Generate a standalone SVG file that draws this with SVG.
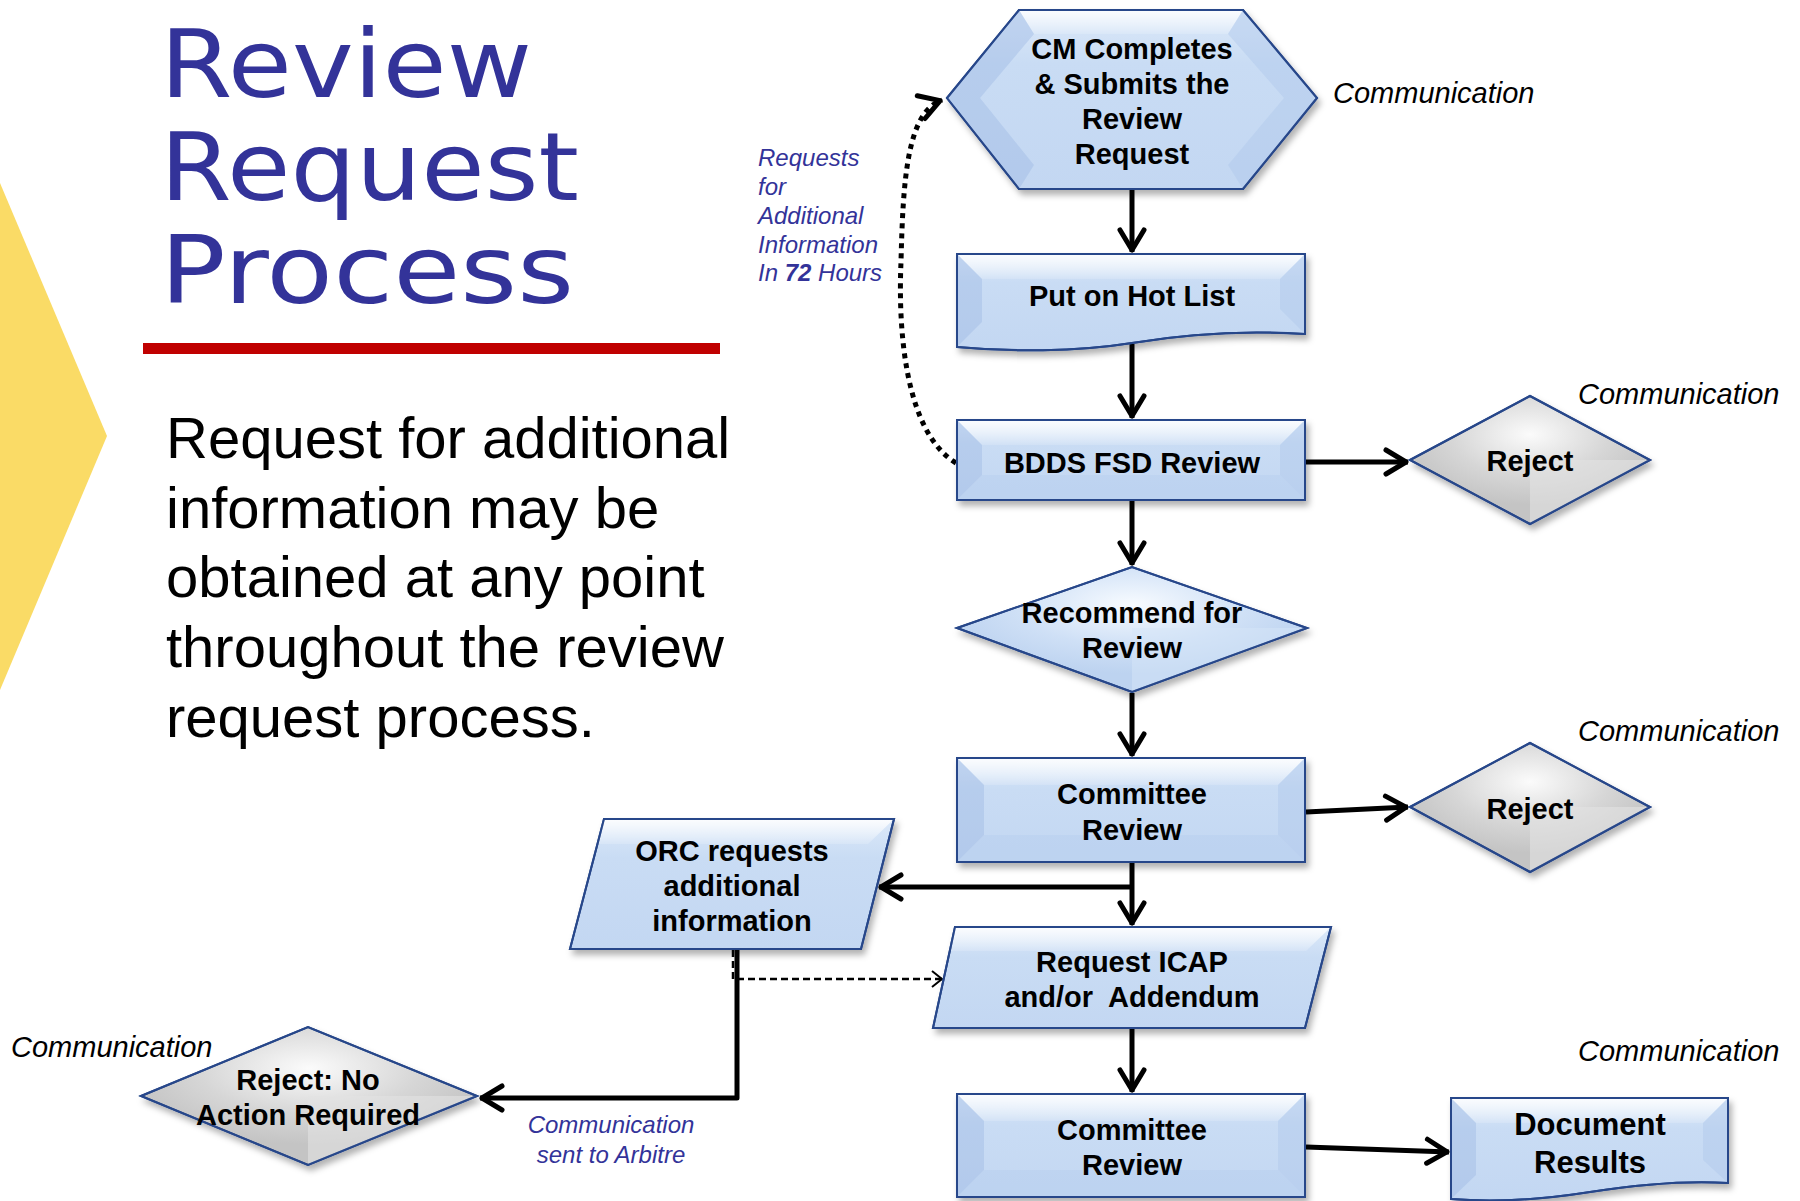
<svg xmlns="http://www.w3.org/2000/svg" width="1800" height="1201" viewBox="0 0 1800 1201">
  <style>
    .title { font-family: "DejaVu Sans", "Liberation Sans", sans-serif; font-size: 95px; fill: #333399; }
    .body { font-family: "Liberation Sans", Arial, sans-serif; font-size: 58px; fill: #000; }
    .lbl { font-family: "Liberation Sans", Arial, sans-serif; font-weight: bold; font-size: 29px; fill: #000; text-anchor: middle; }
    .comm { font-family: "Liberation Sans", Arial, sans-serif; font-style: italic; font-size: 29px; fill: #000; }
    .note { font-family: "Liberation Sans", Arial, sans-serif; font-style: italic; font-size: 24px; fill: #333399; }
    .edge { stroke: #27478a; stroke-width: 2; }
    .conn { stroke: #000; stroke-width: 5; fill: none; stroke-linejoin: round; }
    .dash { stroke: #000; stroke-width: 2.5; fill: none; stroke-dasharray: 7 4; }
    .dots { stroke: #000; stroke-width: 5; fill: none; stroke-dasharray: 5 5; }
    .bev-l { fill: #9fbbe4; opacity: 0.45; }
    .bev-r { fill: #afc7ea; opacity: 0.45; }
    .bev-b { fill: #b3cbed; opacity: 0.35; }
  </style>
  <defs>
    <linearGradient id="blue" x1="0" y1="0" x2="0" y2="1">
      <stop offset="0" stop-color="#dce9f9"/>
      <stop offset="0.3" stop-color="#c9dcf4"/>
      <stop offset="1" stop-color="#c3d7f2"/>
    </linearGradient>
    <linearGradient id="bevTop" x1="0" y1="0" x2="0" y2="1">
      <stop offset="0" stop-color="#ffffff" stop-opacity="0.9"/>
      <stop offset="1" stop-color="#ffffff" stop-opacity="0.15"/>
    </linearGradient>
    <radialGradient id="blueDia" cx="0.5" cy="0.3" r="0.55">
      <stop offset="0" stop-color="#f7fbff"/>
      <stop offset="0.6" stop-color="#cfe0f6"/>
      <stop offset="1" stop-color="#bdd3f0"/>
    </radialGradient>
    <radialGradient id="grayDia" cx="0.5" cy="0.3" r="0.55">
      <stop offset="0" stop-color="#fbfbfb"/>
      <stop offset="0.6" stop-color="#d6d6d6"/>
      <stop offset="1" stop-color="#c4c4c4"/>
    </radialGradient>
    <filter id="shadow" x="-10%" y="-10%" width="125%" height="130%">
      <feDropShadow dx="3" dy="5" stdDeviation="3" flood-color="#000" flood-opacity="0.3"/>
    </filter>
    <marker id="arr" markerUnits="userSpaceOnUse" viewBox="-30 -20 40 40" markerWidth="40" markerHeight="40" refX="2" refY="0" orient="auto">
      <path d="M-20,-12 L0,0 L-20,12" fill="none" stroke="#000" stroke-width="5" stroke-linecap="round" stroke-linejoin="round"/>
    </marker>
    <marker id="arrThin" markerUnits="userSpaceOnUse" viewBox="-15 -10 20 20" markerWidth="20" markerHeight="20" refX="1" refY="0" orient="auto">
      <path d="M-10,-8 L0,0 L-10,8" fill="none" stroke="#000" stroke-width="2"/>
    </marker>
  </defs>

  <rect width="1800" height="1201" fill="#ffffff"/>

  <!-- side accent and heading -->
  <polygon points="0,183 107,436 0,690" fill="#fadb66"/>
  <g id="heading">
    <text class="title" x="160" y="97" textLength="372" lengthAdjust="spacingAndGlyphs">Review</text>
    <text class="title" x="160" y="200" textLength="419" lengthAdjust="spacingAndGlyphs">Request</text>
    <text class="title" x="160" y="303" textLength="414" lengthAdjust="spacingAndGlyphs">Process</text>
    <rect x="143" y="343" width="577" height="11" fill="#c00000"/>
  </g>

  <g id="body-text">
    <text class="body" x="166" y="458">Request for additional</text>
    <text class="body" x="166" y="528">information may be</text>
    <text class="body" x="166" y="597">obtained at any point</text>
    <text class="body" x="166" y="667">throughout the review</text>
    <text class="body" x="166" y="737">request process.</text>
  </g>

  <g id="note-72h">
    <text class="note" x="758" y="166">Requests</text>
    <text class="note" x="758" y="195">for</text>
    <text class="note" x="758" y="224">Additional</text>
    <text class="note" x="758" y="253">Information</text>
    <text class="note" x="758" y="281">In <tspan font-weight="bold">72</tspan> Hours</text>
  </g>

  <g id="note-arbitre">
    <text class="note" x="611" y="1133" text-anchor="middle">Communication</text>
    <text class="note" x="611" y="1163" text-anchor="middle">sent to Arbitre</text>
  </g>

  <g id="comm-labels">
    <text class="comm" x="1333" y="103">Communication</text>
    <text class="comm" x="1578" y="404">Communication</text>
    <text class="comm" x="1578" y="741">Communication</text>
    <text class="comm" x="1578" y="1061">Communication</text>
    <text class="comm" x="11" y="1057">Communication</text>
  </g>

  <!-- connectors -->
  <g id="connectors">
    <path class="conn" d="M1132,190 V252" marker-end="url(#arr)"/>
    <path class="conn" d="M1132,344 V418" marker-end="url(#arr)"/>
    <path class="conn" d="M1306,462 H1408" marker-end="url(#arr)"/>
    <path class="conn" d="M1132,501 V565" marker-end="url(#arr)"/>
    <path class="conn" d="M1132,693 V756" marker-end="url(#arr)"/>
    <path class="conn" d="M1306,812 L1408,807" marker-end="url(#arr)"/>
    <path class="conn" d="M1132,863 V925" marker-end="url(#arr)"/>
    <path class="conn" d="M1132,887 H879" marker-end="url(#arr)"/>
    <path class="conn" d="M1132,1029 V1092" marker-end="url(#arr)"/>
    <path class="conn" d="M1306,1147 L1449,1152" marker-end="url(#arr)"/>
    <path class="conn" d="M737,950 V1098 H480" marker-end="url(#arr)"/>
    <path class="dash" d="M733,950 V979 H943" marker-end="url(#arrThin)"/>
    <path class="dots" d="M956,463 C905,432 898,330 901,262 C903,180 907,112 942,100" marker-end="url(#arr)"/>
  </g>

  <!-- nodes -->
  <g id="node-cm-submits">
    <polygon class="edge" points="947,98 1019,10 1243,10 1317,98 1243,189 1019,189" fill="url(#blue)" filter="url(#shadow)"/>
    <polygon points="1019,10 1243,10 1228,34 1034,34" fill="url(#bevTop)"/>
    <polygon class="bev-l" points="947,98 1019,10 1034,34 980,98 1034,165 1019,189"/>
    <polygon class="bev-r" points="1317,98 1243,10 1228,34 1284,98 1228,165 1243,189"/>
    <polygon class="edge" points="947,98 1019,10 1243,10 1317,98 1243,189 1019,189" fill="none"/>
    <text class="lbl" x="1132" y="59">CM Completes</text>
    <text class="lbl" x="1132" y="94">&amp; Submits the</text>
    <text class="lbl" x="1132" y="129">Review</text>
    <text class="lbl" x="1132" y="164">Request</text>
  </g>

  <g id="node-hot-list">
    <path class="edge" d="M957,254 H1305 V334 C1245,330 1185,334 1132,343 C1075,352 1010,352 957,347 Z" fill="url(#blue)" filter="url(#shadow)"/>
    <polygon points="957,254 1305,254 1280,279 982,279" fill="url(#bevTop)"/>
    <polygon class="bev-l" points="957,254 982,279 982,322 957,347"/>
    <polygon class="bev-r" points="1305,254 1280,279 1280,309 1305,334"/>
    <path class="edge" d="M957,254 H1305 V334 C1245,330 1185,334 1132,343 C1075,352 1010,352 957,347 Z" fill="none"/>
    <text class="lbl" x="1132" y="306">Put on Hot List</text>
  </g>

  <g id="node-bdds">
    <rect class="edge" x="957" y="420" width="348" height="80" fill="url(#blue)" filter="url(#shadow)"/>
    <polygon points="957,420 1305,420 1280,445 982,445" fill="url(#bevTop)"/>
    <polygon class="bev-l" points="957,420 982,445 982,475 957,500"/>
    <polygon class="bev-r" points="1305,420 1280,445 1280,475 1305,500"/>
    <polygon class="bev-b" points="957,500 982,475 1280,475 1305,500"/>
    <rect class="edge" x="957" y="420" width="348" height="80" fill="none"/>
    <text class="lbl" x="1132" y="473">BDDS FSD Review</text>
  </g>

  <g id="node-reject-1">
    <polygon class="edge" points="1410,460 1530,396 1650,460 1530,524" fill="url(#grayDia)" filter="url(#shadow)"/>
    <polygon points="1530,460 1650,460 1530,524" fill="#e2e2e2" opacity="0.6"/>
    <polygon class="edge" points="1410,460 1530,396 1650,460 1530,524" fill="none"/>
    <text class="lbl" x="1530" y="471">Reject</text>
  </g>

  <g id="node-recommend">
    <polygon class="edge" points="957,628 1132,567 1307,628 1132,692" fill="url(#blueDia)" filter="url(#shadow)"/>
    <polygon points="1132,628 1307,628 1132,692" fill="#d6e5f8" opacity="0.5"/>
    <polygon class="edge" points="957,628 1132,567 1307,628 1132,692" fill="none"/>
    <text class="lbl" x="1132" y="623">Recommend for</text>
    <text class="lbl" x="1132" y="658">Review</text>
  </g>

  <g id="node-committee-1">
    <rect class="edge" x="957" y="758" width="348" height="104" fill="url(#blue)" filter="url(#shadow)"/>
    <polygon points="957,758 1305,758 1278,785 984,785" fill="url(#bevTop)"/>
    <polygon class="bev-l" points="957,758 984,785 984,835 957,862"/>
    <polygon class="bev-r" points="1305,758 1278,785 1278,835 1305,862"/>
    <polygon class="bev-b" points="957,862 984,835 1278,835 1305,862"/>
    <rect class="edge" x="957" y="758" width="348" height="104" fill="none"/>
    <text class="lbl" x="1132" y="804">Committee</text>
    <text class="lbl" x="1132" y="840">Review</text>
  </g>

  <g id="node-reject-2">
    <polygon class="edge" points="1410,807 1530,743 1650,807 1530,872" fill="url(#grayDia)" filter="url(#shadow)"/>
    <polygon points="1530,807 1650,807 1530,872" fill="#e2e2e2" opacity="0.6"/>
    <polygon class="edge" points="1410,807 1530,743 1650,807 1530,872" fill="none"/>
    <text class="lbl" x="1530" y="819">Reject</text>
  </g>

  <g id="node-orc">
    <polygon class="edge" points="604,819 894,819 861,949 570,949" fill="url(#blue)" filter="url(#shadow)"/>
    <polygon points="604,819 894,819 868,844 597,844" fill="url(#bevTop)"/>
    <polygon class="edge" points="604,819 894,819 861,949 570,949" fill="none"/>
    <text class="lbl" x="732" y="861">ORC requests</text>
    <text class="lbl" x="732" y="896">additional</text>
    <text class="lbl" x="732" y="931">information</text>
  </g>

  <g id="node-icap">
    <polygon class="edge" points="955,927 1331,927 1305,1028 933,1028" fill="url(#blue)" filter="url(#shadow)"/>
    <polygon points="955,927 1331,927 1306,951 949,951" fill="url(#bevTop)"/>
    <polygon class="edge" points="955,927 1331,927 1305,1028 933,1028" fill="none"/>
    <text class="lbl" x="1132" y="972">Request ICAP</text>
    <text class="lbl" x="1132" y="1007">and/or&#160; Addendum</text>
  </g>

  <g id="node-committee-2">
    <rect class="edge" x="957" y="1094" width="348" height="103" fill="url(#blue)" filter="url(#shadow)"/>
    <polygon points="957,1094 1305,1094 1278,1121 984,1121" fill="url(#bevTop)"/>
    <polygon class="bev-l" points="957,1094 984,1121 984,1170 957,1197"/>
    <polygon class="bev-r" points="1305,1094 1278,1121 1278,1170 1305,1197"/>
    <polygon class="bev-b" points="957,1197 984,1170 1278,1170 1305,1197"/>
    <rect class="edge" x="957" y="1094" width="348" height="103" fill="none"/>
    <text class="lbl" x="1132" y="1140">Committee</text>
    <text class="lbl" x="1132" y="1175">Review</text>
  </g>

  <g id="node-document-results">
    <path class="edge" d="M1451,1098 H1728 V1183 C1680,1180 1635,1185 1590,1192 C1540,1200 1490,1202 1451,1199 Z" fill="url(#blue)" filter="url(#shadow)"/>
    <polygon points="1451,1098 1728,1098 1703,1123 1476,1123" fill="url(#bevTop)"/>
    <polygon class="bev-l" points="1451,1098 1476,1123 1476,1175 1451,1199"/>
    <polygon class="bev-r" points="1728,1098 1703,1123 1703,1160 1728,1183"/>
    <path class="edge" d="M1451,1098 H1728 V1183 C1680,1180 1635,1185 1590,1192 C1540,1200 1490,1202 1451,1199 Z" fill="none"/>
    <text class="lbl" x="1590" y="1135" style="font-size:31px">Document</text>
    <text class="lbl" x="1590" y="1173" style="font-size:31px">Results</text>
  </g>

  <g id="node-reject-no-action">
    <polygon class="edge" points="141,1096 308,1027 477,1096 308,1165" fill="url(#grayDia)" filter="url(#shadow)"/>
    <polygon points="308,1096 477,1096 308,1165" fill="#e2e2e2" opacity="0.6"/>
    <polygon class="edge" points="141,1096 308,1027 477,1096 308,1165" fill="none"/>
    <text class="lbl" x="308" y="1090">Reject: No</text>
    <text class="lbl" x="308" y="1125">Action Required</text>
  </g>
</svg>
